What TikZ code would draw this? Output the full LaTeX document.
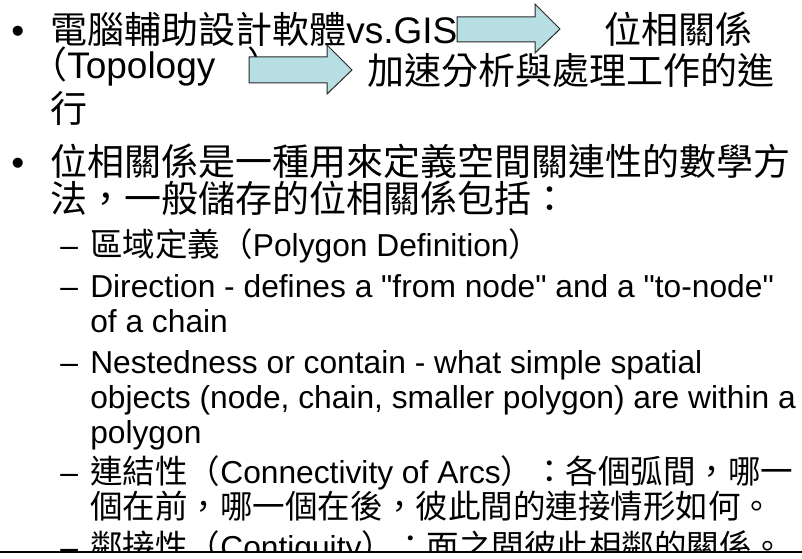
\documentclass[tikz,border=0pt]{standalone}
\usepackage{fontspec}
\setmainfont{Liberation Sans}[Ligatures=TeXOff]
\newfontfamily\cjk{Noto Sans CJK TC}
\newfontfamily\cjkb{Noto Sans CJK TC}[Scale=1.025]
\newcommand{\zh}[1]{{\cjk #1}}
\newcommand{\zhb}[1]{{\cjkb #1}}
\definecolor{arrowfill}{RGB}{183,222,226}
\definecolor{arrowline}{RGB}{40,40,40}
\tikzset{
  lvlone/.style={anchor=base west, inner sep=0pt, font=\fontsize{27.75}{30}\selectfont},
  lvltwo/.style={anchor=base west, inner sep=0pt, font=\fontsize{23.8}{27}\selectfont},
  blockarrow/.style={draw=arrowline, line width=0.75pt, fill=arrowfill, line join=miter},
}
\begin{document}
\begin{tikzpicture}[x=0.75pt,y=-0.75pt]
\useasboundingbox (0,0) rectangle (802,559);
\fill[white] (0,0) rectangle (802,559);

\begin{scope}
  \clip (0,0) rectangle (802,551);
  % first bullet
  \node[lvlone] (bulA) at (11,44) {•};
  \node[lvlone] (a1) at (50,44) {\zh{電腦輔助設計軟體}vs.GIS};
  \node[lvlone] (a1r) at (604,44) {\zh{位相關係}};
  \node[lvlone] (a2) at (30,79) {\zh{（}Topology\hspace{24pt}\zh{）}};
  \node[lvlone] (a2r) at (367,85) {\zh{加速分析與處理工作的進}};
  \node[lvlone] (a3) at (50,123) {\zh{行}};
  % second bullet
  \node[lvlone] (bulB) at (11,176) {•};
  \node[lvlone] (b1) at (50,176) {\zh{位相關係是一種用來定義空間關連性的數學方}};
  \node[lvlone] (b2) at (50,213) {\zh{法，一般儲存的位相關係包括：}};
  % sub items
  \node[lvltwo] (d1) at (60,257) {–};
  \node[lvltwo] (s1) at (90,257) {\zhb{區域定義（}Polygon Definition\zhb{）}};
  \node[lvltwo] (d2) at (60,297) {–};
  \node[lvltwo] (s2a) at (90,297) {Direction - defines a "from node" and a "to-node"};
  \node[lvltwo] (s2b) at (90,332) {of a chain};
  \node[lvltwo] (d3) at (60,373) {–};
  \node[lvltwo] (s3a) at (90,373) {Nestedness or contain - what simple spatial};
  \node[lvltwo] (s3b) at (90,408) {objects (node, chain, smaller polygon) are within a};
  \node[lvltwo] (s3c) at (90,443) {polygon};
  \node[lvltwo] (d4) at (60,483) {–};
  \node[lvltwo] (s4a) at (90,483) {\zhb{連結性（}Connectivity of Arcs\zhb{）：各個弧間，哪一}};
  \node[lvltwo] (s4b) at (90,518) {\zhb{個在前，哪一個在後，彼此間的連接情形如何。}};
  \node[lvltwo] (d5) at (60,558) {–};
  \node[lvltwo] (s5) at (90,558) {\zhb{鄰接性（}Contiguity\zhb{）：面之間彼此相鄰的關係。}};
\end{scope}

% block arrows
\draw[blockarrow] (457,17) -- (535,17) -- (535,4) -- (560,29) -- (535,53)
  -- (535,42) -- (457,42) -- cycle;
\draw[blockarrow] (249,57) -- (327,57) -- (327,45) -- (352,70) -- (327,94)
  -- (327,83) -- (249,83) -- cycle;

% lower edge
\draw[black, line width=1.5pt] (0,552) -- (802,552);
\end{tikzpicture}
\end{document}
